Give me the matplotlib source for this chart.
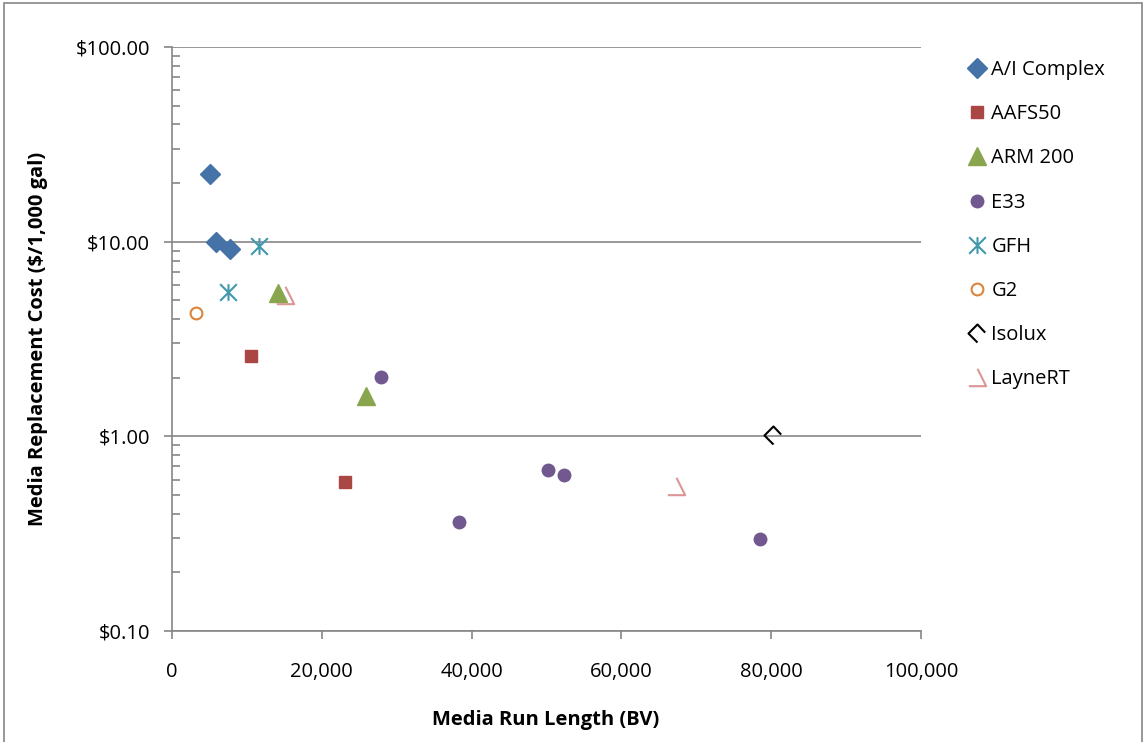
import matplotlib
matplotlib.use("Agg")
import matplotlib.pyplot as plt
from matplotlib.path import Path
from matplotlib.ticker import FixedLocator, LogLocator, NullFormatter, FuncFormatter
from matplotlib.patches import Rectangle

plt.rcParams['font.family'] = ['Open Sans', 'DejaVu Sans']

# media run length (BV) and replacement cost ($/1,000 gal)
ai_x = [5100, 5900, 7700]
ai_y = [22.3, 10.0, 9.2]
aafs_x = [10500, 23100]
aafs_y = [2.59, 0.58]
arm_x = [14150, 25900]
arm_y = [5.45, 1.61]
e33_x = [27900, 38300, 50200, 52300, 78500]
e33_y = [2.02, 0.363, 0.67, 0.635, 0.297]
gfh_x = [11600, 7500]
gfh_y = [9.5, 5.52]
g2_x = [3200]
g2_y = [4.3]
isolux_x = [80200]
isolux_y = [1.02]
layne_x = [15100, 67300]
layne_y = [5.3, 0.555]

# Excel-like open markers: star, three sides of a diamond, two sides of a triangle
star_marker = Path([(0, -1), (0, 1), (-1, -1), (1, 1), (-1, 1), (1, -1)],
                   [Path.MOVETO, Path.LINETO] * 3)
isolux_marker = Path([(0.85, 0.1), (0, 1), (-1, 0), (0, -1)],
                     [Path.MOVETO, Path.LINETO, Path.LINETO, Path.LINETO])
layne_marker = Path([(0, 1), (1, -1), (-1, -1)],
                    [Path.MOVETO, Path.LINETO, Path.LINETO])

fig = plt.figure(figsize=(11.46, 7.42), dpi=100)
ax = fig.add_axes([172 / 1146, 1 - 631 / 742, (921 - 172) / 1146, (631 - 47) / 742])

ax.plot(ai_x, ai_y, 'D', ms=10, color='#4572A7', ls='none', label='A/I Complex')
ax.plot(aafs_x, aafs_y, 's', ms=9, color='#AA4643', ls='none', label='AAFS50')
ax.plot(arm_x, arm_y, '^', ms=12.5, color='#89A54E', ls='none', label='ARM 200')
ax.plot(e33_x, e33_y, 'o', ms=9, color='#71588F', ls='none', label='E33')
ax.plot(gfh_x, gfh_y, marker=star_marker, ms=12, mew=1.5, mfc='none', color='#4198AF',
        ls='none', label='GFH')
ax.plot(g2_x, g2_y, 'o', ms=8.5, mfc='none', mew=1.5, color='#DB843D', ls='none', label='G2')
ax.plot(isolux_x, isolux_y, marker=isolux_marker, ms=13, mfc='none', mew=1.5,
        color='black', ls='none', label='Isolux')
ax.plot(layne_x, layne_y, marker=layne_marker, ms=12.5, mfc='none', mew=1.5,
        color='#D99694', ls='none', label='LayneRT')

ax.set_yscale('log')
ax.set_ylim(0.1, 100)
ax.set_xlim(0, 100000)
ax.xaxis.set_major_locator(FixedLocator(range(0, 100001, 20000)))
ax.xaxis.set_major_formatter(FuncFormatter(lambda v, p: f"{int(v):,}"))
ax.yaxis.set_major_locator(FixedLocator([0.1, 1, 10, 100]))
ax.yaxis.set_major_formatter(FuncFormatter(lambda v, p: f"${v:,.2f}"))
ax.yaxis.set_minor_locator(LogLocator(base=10, subs=range(2, 10)))
ax.yaxis.set_minor_formatter(NullFormatter())

ax.grid(True, axis='y', which='major', color='#868686', lw=1.2)
ax.set_axisbelow(True)
for s in ['top', 'right']:
    ax.spines[s].set_visible(False)
for s in ['left', 'bottom']:
    ax.spines[s].set_color('#868686')
    ax.spines[s].set_linewidth(1.2)
ax.tick_params(axis='both', which='major', direction='out', length=6, color='#868686',
               width=1.2, labelsize=14.5, pad=16)
ax.tick_params(axis='y', which='major', pad=10)
ax.tick_params(axis='y', which='minor', direction='in', length=6, color='#868686', width=1.2)

fig.text(546 / 1146, 1 - 720 / 742, 'Media Run Length (BV)', fontsize=14.5,
         fontweight='bold', ha='center', va='center')
fig.text(38 / 1146, 1 - 339 / 742, 'Media Replacement Cost ($/1,000 gal)', fontsize=14.5,
         fontweight='bold', ha='center', va='center', rotation=90)

leg = fig.legend(loc='upper left', bbox_to_anchor=(949 / 1146, 1 - 42 / 742), frameon=False,
                 fontsize=14.5, labelspacing=1.2, handletextpad=0.2, handlelength=1.0,
                 markerscale=1.0)

fig.patches.append(Rectangle((4 / 1146, -0.05), 1 - 8 / 1146, 1.05 - 3 / 742,
                             transform=fig.transFigure, fill=False, edgecolor='#868686', lw=1.2))

fig.savefig('out.png', dpi=100)
